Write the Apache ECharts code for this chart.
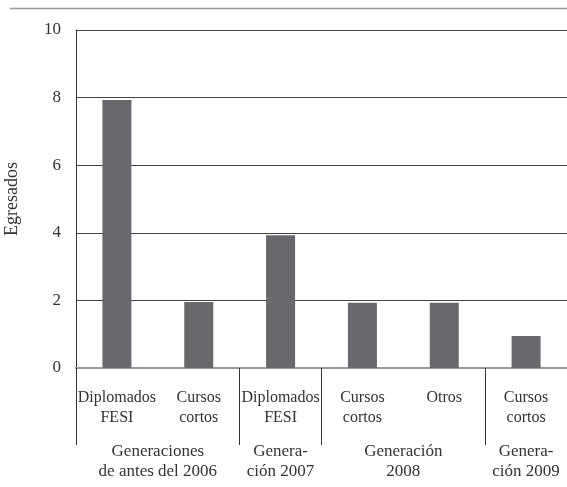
<!DOCTYPE html>
<html>
<head>
<meta charset="utf-8">
<script src="https://cdn.jsdelivr.net/npm/echarts@6/dist/echarts.min.js"></script>
<style>
html,body{margin:0;padding:0;background:#fff;}
#chart{width:567px;height:487px;}
</style>
</head>
<body>
<div id="chart"></div>
<script>
const categories = ['Diplomados\nFESI', 'Cursos\ncortos', 'Diplomados\nFESI', 'Cursos\ncortos', 'Otros', 'Cursos\ncortos'];
const egresados = [7.93, 1.95, 3.93, 1.93, 1.93, 0.95];
const groupLabels = ['Generaciones\nde antes del 2006', 'Genera-\nción 2007', 'Generación\n2008', 'Genera-\nción 2009'];
const groupSpans = [2, 1, 2, 1];
const yName = 'Egresados';

// derived group boundaries and centers (in category units)
const groupBounds = [];
const groupCenters = [];
let acc = 0;
groupSpans.forEach(function (s) {
  groupBounds.push(acc);
  groupCenters.push(acc + s / 2);
  acc += s;
});

const FONT = '"Liberation Serif", "Times New Roman", serif';
const TXT = '#333333';

const chart = echarts.init(document.getElementById('chart'), null, {renderer: 'canvas'});
chart.setOption({
  backgroundColor: '#ffffff',
  animation: false,
  textStyle: {fontFamily: FONT},
  grid: {left: 76, right: 0, top: 30, bottom: 119, containLabel: false, outerBoundsMode: 'none'},
  graphic: [{
    type: 'line',
    shape: {x1: 10, y1: 8.5, x2: 567, y2: 8.5},
    style: {stroke: '#9a9a9a', lineWidth: 1.5}
  }],
  xAxis: [{
    type: 'category',
    data: categories,
    position: 'bottom',
    axisLine: {show: true, lineStyle: {color: '#9a9a9a', width: 2}},
    axisTick: {show: false},
    axisLabel: {
      interval: 0, margin: 20, color: TXT,
      fontFamily: FONT, fontSize: 16, lineHeight: 20
    },
    splitLine: {show: false}
  }, {
    type: 'value',
    min: 0,
    max: acc,
    position: 'bottom',
    axisLine: {show: false},
    splitLine: {show: false},
    axisTick: {
      show: true, customValues: groupBounds, length: 77, inside: false,
      lineStyle: {color: '#333333', width: 1}
    },
    axisLabel: {
      show: true, customValues: groupCenters, margin: 74,
      color: TXT, fontFamily: FONT, fontSize: 17, lineHeight: 20,
      showMinLabel: true, showMaxLabel: true,
      formatter: function (v) {
        for (let i = 0; i < groupCenters.length; i++) {
          if (Math.abs(groupCenters[i] - v) < 1e-6) return groupLabels[i];
        }
        return '';
      }
    }
  }],
  yAxis: {
    type: 'value',
    min: 0,
    max: 10,
    interval: 2,
    name: yName,
    nameLocation: 'middle',
    nameGap: 55,
    nameRotate: 90,
    nameTextStyle: {color: TXT, fontFamily: FONT, fontSize: 18},
    axisLine: {show: true, lineStyle: {color: '#333333', width: 1}},
    axisTick: {show: false},
    axisLabel: {color: TXT, fontFamily: FONT, fontSize: 17, margin: 15},
    splitLine: {show: true, lineStyle: {color: '#444444', width: 1}}
  },
  series: [{
    type: 'bar',
    xAxisIndex: 0,
    data: egresados,
    barWidth: 29,
    itemStyle: {color: '#68696c'}
  }]
});
</script>
</body>
</html>
